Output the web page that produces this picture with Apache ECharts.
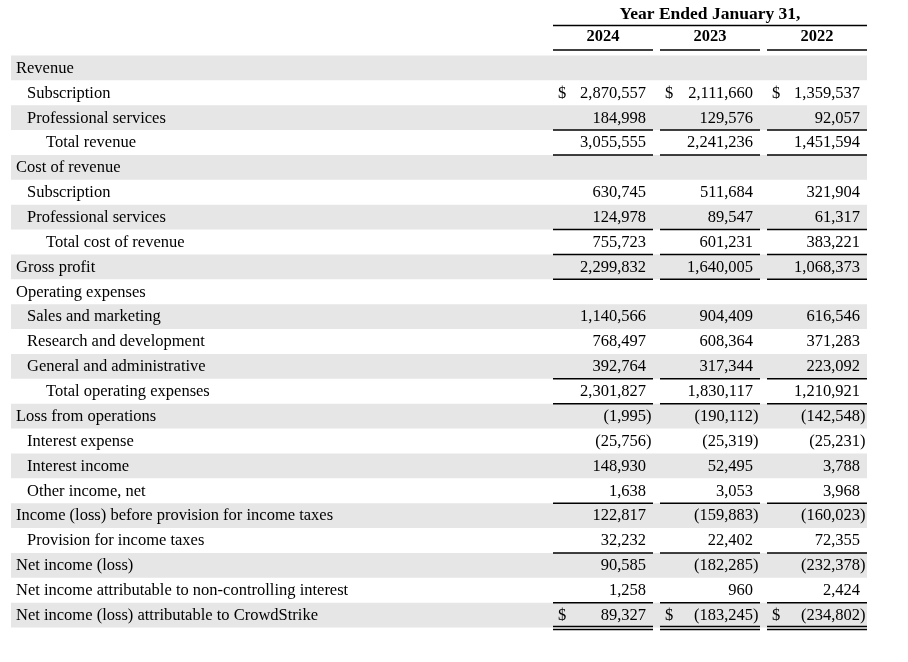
<!DOCTYPE html>
<html>
<head>
<meta charset="utf-8">
<script src="https://cdn.jsdelivr.net/npm/echarts@6/dist/echarts.min.js"></script>
<style>html,body{margin:0;padding:0;background:#fff;}#main{width:908px;height:662px;}</style>
</head>
<body>
<div id="main"></div>
<script>
const title = 'Year Ended January 31,';
const years = ['2024', '2023', '2022'];
const rowLabels = [
  'Revenue', 'Subscription', 'Professional services', 'Total revenue',
  'Cost of revenue', 'Subscription', 'Professional services', 'Total cost of revenue',
  'Gross profit', 'Operating expenses', 'Sales and marketing', 'Research and development',
  'General and administrative', 'Total operating expenses', 'Loss from operations',
  'Interest expense', 'Interest income', 'Other income, net',
  'Income (loss) before provision for income taxes', 'Provision for income taxes',
  'Net income (loss)', 'Net income attributable to non-controlling interest',
  'Net income (loss) attributable to CrowdStrike'
];
const rowIndent = [0,1,1,2,0,1,1,2,0,0,1,1,1,2,0,1,1,1,0,1,0,0,0];
const v2024 = [null, 2870557, 184998, 3055555, null, 630745, 124978, 755723, 2299832, null,
  1140566, 768497, 392764, 2301827, -1995, -25756, 148930, 1638, 122817, 32232, 90585, 1258, 89327];
const v2023 = [null, 2111660, 129576, 2241236, null, 511684, 89547, 601231, 1640005, null,
  904409, 608364, 317344, 1830117, -190112, -25319, 52495, 3053, -159883, 22402, -182285, 960, -183245];
const v2022 = [null, 1359537, 92057, 1451594, null, 321904, 61317, 383221, 1068373, null,
  616546, 371283, 223092, 1210921, -142548, -25231, 3788, 3968, -160023, 72355, -232378, 2424, -234802];
const dollarRows = [1, 22];
const singleRuleRows = [2, 3, 6, 7, 8, 12, 13, 17, 19, 21];
const doubleRuleRows = [22];

const FONT = '"Liberation Serif", "Times New Roman", serif';
const FS = 16.5;
const SHADE = '#e6e6e6';
const columns = [v2024, v2023, v2022];

const bandData = rowLabels.map((l, i) => [0, i]).filter(d => d[1] % 2 === 0);
const labelData = rowLabels.map((l, i) => [0, i, l, rowIndent[i]]);
const cellData = [];
columns.forEach((col, c) => col.forEach((v, r) => {
  if (v !== null) cellData.push([c, r, v, dollarRows.indexOf(r) >= 0 ? 1 : 0]);
}));
const ruleData = [];
singleRuleRows.forEach(r => ruleData.push([0, r, 1]));
doubleRuleRows.forEach(r => ruleData.push([0, r, 2]));
ruleData.push([0, 0, 0]); // header rules

function fmt(v) {
  const s = Math.abs(v).toLocaleString('en-US');
  return v < 0 ? '(' + s + ')' : s;
}

const chart = echarts.init(document.getElementById('main'), null, {renderer: 'canvas'});
const option = {
  animation: false,
  backgroundColor: '#fff',
  grid: {left: 549.5, width: 321, top: 52.5, height: 575},
  xAxis: {
    type: 'category', data: years, position: 'top',
    axisLine: {show: false}, axisTick: {show: false}, splitLine: {show: false},
    axisLabel: {fontFamily: FONT, fontSize: FS, fontWeight: 'bold', color: '#000', margin: 10},
    name: title, nameLocation: 'middle', nameGap: 41.5,
    nameTextStyle: {fontFamily: FONT, fontSize: 17.5, fontWeight: 'bold', color: '#000', verticalAlign: 'middle'}
  },
  yAxis: {
    type: 'category', data: rowLabels, inverse: true, show: false
  },
  series: [
    {
      type: 'custom', z: 1, data: bandData,
      renderItem: function (params, api) {
        const p = api.coord([0, api.value(1)]);
        const pr = api.coord([2, api.value(1)]);
        const w = api.size([1, 1]);
        const right = pr[0] + w[0] / 2 - 3.5;
        return {type: 'rect', shape: {x: 11, y: p[1] - w[1] / 2, width: right - 11, height: w[1]},
          style: {fill: SHADE}};
      }
    },
    {
      type: 'custom', z: 3, data: labelData,
      renderItem: function (params, api) {
        const r = api.value(1);
        const p = api.coord([0, r]);
        const xs = [16, 27, 46];
        return {type: 'text', style: {text: rowLabels[r], x: xs[rowIndent[r]], y: p[1] + 0.5,
          font: FS + 'px ' + FONT, fill: '#000', align: 'left', verticalAlign: 'middle'}};
      }
    },
    {
      type: 'custom', z: 3, data: cellData,
      renderItem: function (params, api) {
        const c = api.value(0), r = api.value(1), v = api.value(2), d = api.value(3);
        const p = api.coord([c, r]);
        const R = p[0] + 43;
        const children = [{type: 'text', style: {text: fmt(v), x: v < 0 ? R + 5.5 : R, y: p[1] + 0.5,
          font: FS + 'px ' + FONT, fill: '#000', align: 'right', verticalAlign: 'middle'}}];
        if (d) children.push({type: 'text', style: {text: '$', x: p[0] - 45, y: p[1] + 0.5,
          font: FS + 'px ' + FONT, fill: '#000', align: 'left', verticalAlign: 'middle'}});
        return {type: 'group', children: children};
      }
    },
    {
      type: 'custom', z: 4, data: ruleData,
      renderItem: function (params, api) {
        const r = api.value(1), kind = api.value(2);
        const w = api.size([1, 1]);
        const children = [];
        const line = (x1, x2, y) => ({type: 'line', shape: {x1: x1, y1: y, x2: x2, y2: y},
          style: {stroke: '#000', lineWidth: 1.5}});
        const cx = [0, 1, 2].map(c => api.coord([c, r])[0]);
        const yc = api.coord([0, r])[1];
        if (kind === 0) {
          const top = yc - w[1] / 2;
          children.push(line(cx[0] - w[0] / 2 + 3.5, cx[2] + w[0] / 2 - 3.5, top - 30));
          cx.forEach(x => children.push(line(x - w[0] / 2 + 3.5, x + w[0] / 2 - 3.5, top - 5.5)));
        } else {
          const bot = yc + w[1] / 2;
          cx.forEach(x => {
            if (kind === 1) children.push(line(x - w[0] / 2 + 3.5, x + w[0] / 2 - 3.5, bot));
            else {
              children.push(line(x - w[0] / 2 + 3.5, x + w[0] / 2 - 3.5, bot - 1));
              children.push(line(x - w[0] / 2 + 3.5, x + w[0] / 2 - 3.5, bot + 2));
            }
          });
        }
        return {type: 'group', children: children};
      }
    }
  ]
};
chart.setOption(option);
</script>
</body>
</html>
